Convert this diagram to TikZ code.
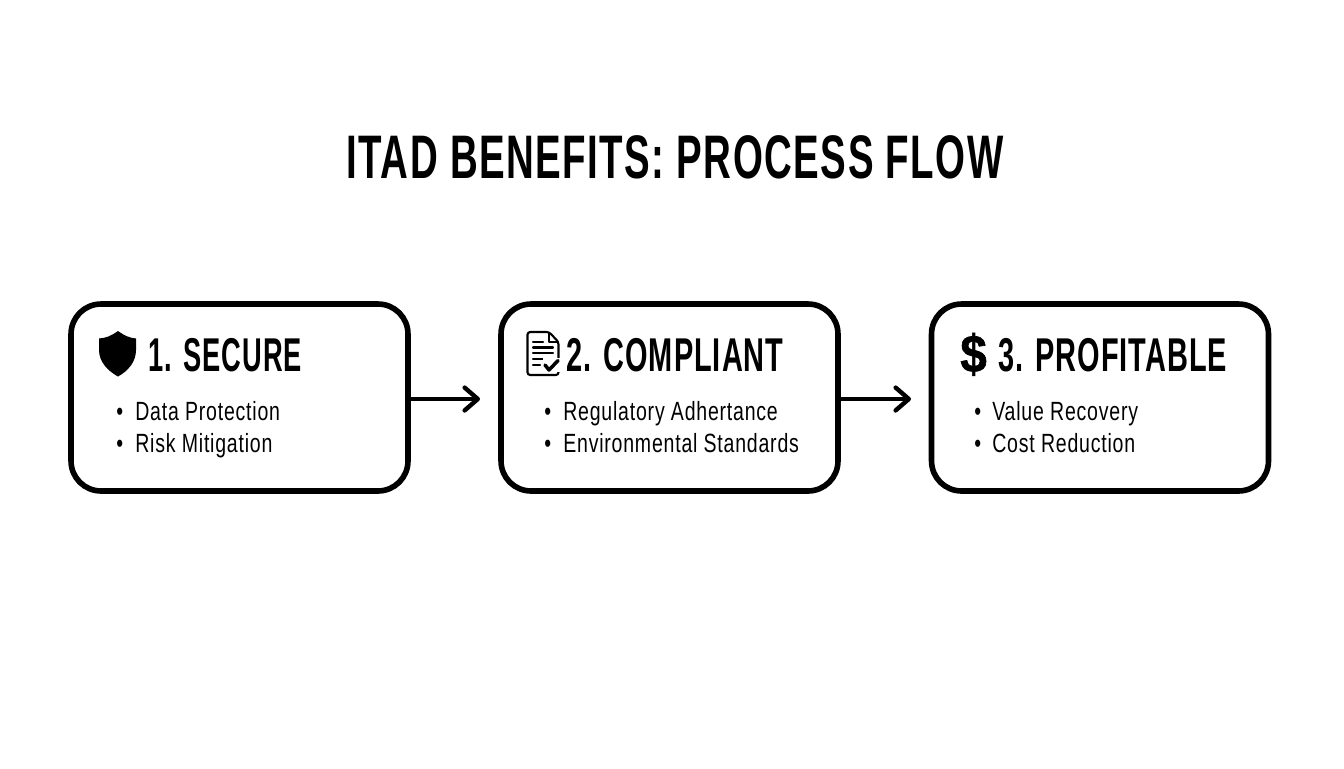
\documentclass[tikz,border=0pt]{standalone}
\usepackage{fontspec}
\usetikzlibrary{arrows.meta}
\newfontfamily\titlefont[FakeStretch=0.625, LetterSpace=2.4]{Liberation Sans Bold}
\newfontfamily\headfont[FakeStretch=0.61, LetterSpace=2.1]{Liberation Sans Bold}
\newfontfamily\shortheadfont[FakeStretch=0.575, LetterSpace=2.1]{Liberation Sans Bold}
\newfontfamily\iconfont[FakeStretch=0.9, FakeBold=1.2]{Liberation Sans Bold}
\newfontfamily\bodyfont[FakeStretch=0.74, LetterSpace=3]{Liberation Sans}
\tikzset{
	stagebox/.style={draw, line width=3.2pt, rounded corners=0.6cm, fill=white, minimum width=6.74cm, minimum height=3.74cm},
	headtext/.style={anchor=base west, inner sep=0pt, font=\headfont\fontsize{27}{27}\selectfont},
	itemtext/.style={anchor=base west, inner sep=0pt, font=\bodyfont\fontsize{15}{15}\selectfont},
	flowarrow/.style={line width=2.5pt, line cap=round, -{Straight Barb[length=7.5pt, width=13pt, line width=2.5pt, round]}},
	iconline/.style={line width=1.2pt, line join=round, line cap=round}
}
\begin{document}
\begin{tikzpicture}[x=0.02cm, y=-0.02cm]
	\useasboundingbox (0,0) rectangle (1344,768);

	\node[anchor=base, inner sep=0pt, font=\titlefont\fontsize{35}{35}\selectfont] (title) at (675,178) {ITAD BENEFITS: PROCESS FLOW};

	\node[stagebox] (secure) at (239.5,397.5) {};
	\node[stagebox] (compliant) at (669.5,397.5) {};
	\node[stagebox] (profitable) at (1100,397.5) {};

	\coordinate (tipA) at (480,399);
	\coordinate (tipB) at (911,399);
	\draw[flowarrow] (secure.east |- tipA) -- (tipA);
	\draw[flowarrow] (compliant.east |- tipB) -- (tipB);

	% shield
	\fill (118,331) .. controls (125,336) and (130,338) .. (136,338.5) -- (136,350) .. controls (136,362) and (128,371) .. (118,376.5) .. controls (108,371) and (99,362) .. (99,350) -- (99,338.5) .. controls (106,338) and (111,336) .. (118,331) -- cycle;
	\node[headtext, font=\shortheadfont\fontsize{27}{27}\selectfont] (secureHead) at (148,371) {1. SECURE};
	\node[itemtext] (secureDot) at (116,420) {•};
	\node[itemtext] (secureOne) at (135,420) {Data Protection};
	\node[itemtext] (secureDotB) at (116,452) {•};
	\node[itemtext] (secureTwo) at (135,452) {Risk Mitigation};

	% document
	\draw[iconline, rounded corners=1.5pt] (538,332) -- (527.5,332) -- (527.5,375) -- (558.5,375) -- (558.5,342) -- (549,332) -- (538,332);
	\draw[iconline] (549,333) -- (549,342) -- (557.5,342);
	\draw[iconline] (533,342) -- (543,342) (533,347.5) -- (553,347.5) (533,353) -- (553,353) (533,359) -- (547,359) (533,365) -- (540,365);
	\fill[white] (543,358) rectangle (562,372);
	\draw[line width=2pt, line join=round, line cap=round] (545,365) -- (549,370) -- (558,360.5);
	\node[headtext] (compliantHead) at (566,371) {2. COMPLIANT};
	\node[itemtext] (compliantDot) at (544,420) {•};
	\node[itemtext] (compliantOne) at (563,420) {Regulatory Adhertance};
	\node[itemtext] (compliantDotB) at (544,452) {•};
	\node[itemtext] (compliantTwo) at (563,452) {Environmental Standards};

	% dollar
	\node[anchor=base west, inner sep=0pt, font=\iconfont\fontsize{30}{30}\selectfont] (profitableIcon) at (960,372) {\$};
	\node[headtext] (profitableHead) at (998,371) {3. PROFITABLE};
	\node[itemtext] (profitableDot) at (974,420) {•};
	\node[itemtext] (profitableOne) at (992,420) {Value Recovery};
	\node[itemtext] (profitableDotB) at (974,452) {•};
	\node[itemtext] (profitableTwo) at (992,452) {Cost Reduction};
\end{tikzpicture}
\end{document}
